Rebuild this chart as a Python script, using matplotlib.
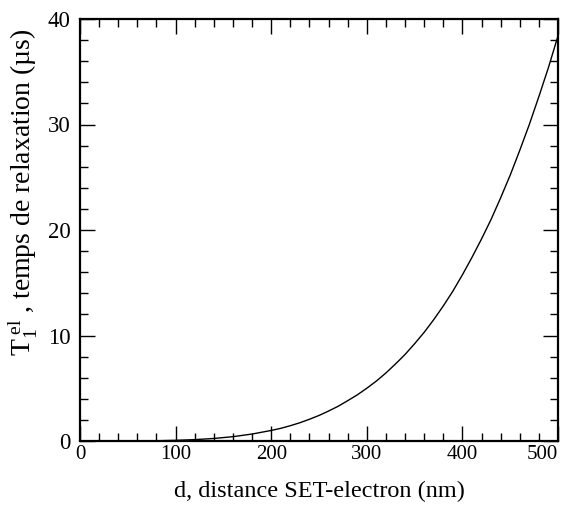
import numpy as np
import matplotlib.pyplot as plt
from matplotlib.ticker import MultipleLocator

plt.rcParams['font.family'] = ['Liberation Serif', 'DejaVu Serif']
plt.rcParams['mathtext.fontset'] = 'custom'
plt.rcParams['mathtext.rm'] = 'Liberation Serif'
plt.rcParams['mathtext.it'] = 'Liberation Serif:italic'

# distance (nm) and relaxation time (us)
distance = [0, 20, 40, 60, 80, 100, 120, 140, 160, 180, 200, 210, 220, 230,
            240, 250, 260, 270, 280, 290, 300, 310, 320, 330, 340, 350, 360,
            370, 380, 390, 400, 410, 420, 430, 440, 450, 460, 470, 480, 490,
            500]
t1 = [0.0, 0.0, 0.002, 0.008, 0.025, 0.065, 0.13, 0.24, 0.41, 0.66, 1.0,
      1.2, 1.45, 1.73, 2.06, 2.42, 2.84, 3.29, 3.82, 4.37, 5.0, 5.68, 6.45,
      7.3, 8.2, 9.22, 10.3, 11.5, 12.8, 14.2, 15.75, 17.4, 19.15, 21.0,
      23.05, 25.2, 27.55, 30.0, 32.65, 35.4, 38.4]

x_ticks = [0, 100, 200, 300, 400, 500]
y_ticks = [0, 10, 20, 30, 40]

fig = plt.figure(figsize=(5.64, 5.05), dpi=100)
ax = fig.add_axes([80/564, 64/505, 478/564, 422/505])

ax.plot(distance, t1, color='black', lw=1.0)

ax.set_xlim(0, 500)
ax.set_ylim(0, 40)
ax.set_xticks(x_ticks)
ax.set_yticks(y_ticks)
ax.xaxis.set_minor_locator(MultipleLocator(20))
ax.yaxis.set_minor_locator(MultipleLocator(2))
ax.tick_params(which='both', direction='in', top=True, right=True, width=1.0)
ax.tick_params(which='major', length=11)
ax.tick_params(which='minor', length=6)
ax.tick_params(axis='x', pad=3, labelsize=15)
ax.tick_params(axis='y', pad=7, labelsize=16.5)
for s in ax.spines.values():
    s.set_linewidth(1.6)
ax.get_xticklabels()[-1].set_horizontalalignment('right')

ax.set_xlabel('d, distance SET-electron (nm)', fontsize=17.5, labelpad=12)
ax.set_ylabel(r'T$_1^{\ \mathrm{el}}$ , temps de relaxation (µs)', fontsize=20)
ax.yaxis.set_label_coords(-0.083, 0.59)

fig.savefig('out.png', dpi=100)
